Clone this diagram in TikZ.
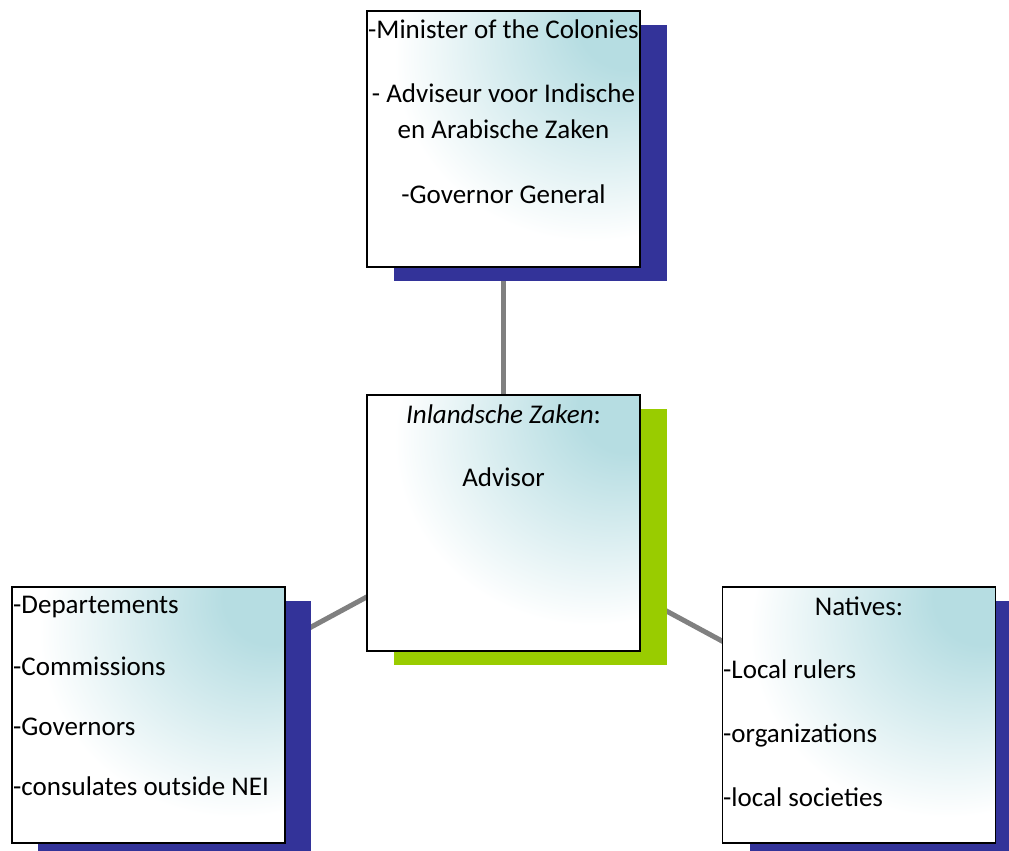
\documentclass[tikz,border=0pt]{standalone}
\usepackage{fontspec}
\setmainfont{Carlito}
\definecolor{tealc}{RGB}{182,221,226}
\definecolor{shblue}{RGB}{51,51,153}
\definecolor{shgreen}{RGB}{153,204,0}
\definecolor{linegray}{RGB}{128,128,128}
\pgfdeclareradialshading{cornerfade}{\pgfpoint{25bp}{25bp}}{color(0bp)=(tealc); color(9bp)=(tealc); color(36bp)=(white); color(100bp)=(white)}
\pgfdeclarelayer{bg}
\pgfdeclarelayer{shadowlayer}
\pgfsetlayers{bg,shadowlayer,main}
\tikzset{
  box/.style={draw=black, line width=1.8pt, shading=cornerfade, minimum width=273pt, minimum height=256pt, inner sep=0pt, outer sep=0pt},
  conn/.style={draw=linegray, line width=5pt},
  txt/.style={inner sep=0pt, font=\fontsize{27}{32}\selectfont},
}
\begin{document}
\begin{tikzpicture}[x=1pt,y=-1pt]
\useasboundingbox (0,0) rectangle (1009,851);
% boxes
\node[box] (top) at (503.5,139) {};
\node[box] (mid) at (503.5,523) {};
\node[box] (left) at (148.5,715) {};
\node[box] (right) at (859,715) {};
% shadows
\begin{pgfonlayer}{shadowlayer}
\fill[shblue] ([shift={(27,14)}]top.south west) rectangle ([shift={(27,14)}]top.north east);
\fill[shgreen] ([shift={(27,14)}]mid.south west) rectangle ([shift={(27,14)}]mid.north east);
\fill[shblue] ([shift={(26,14)}]left.south west) rectangle ([shift={(26,14)}]left.north east);
\fill[shblue] ([shift={(27,14)}]right.south west) rectangle ([shift={(27,14)}]right.north east);
\end{pgfonlayer}
% connectors
\begin{pgfonlayer}{bg}
\draw[conn] (top.center) -- (mid.center);
\draw[conn] (mid.center) -- (left.center);
\draw[conn] (mid.center) -- (right.center);
\end{pgfonlayer}
% texts
\node[txt, anchor=base] (t1) at (503.5,39) {-Minister of the Colonies};
\node[txt, anchor=base] (t2) at (503.5,102) {- Adviseur voor Indische};
\node[txt, anchor=base] (t3) at (503.5,138) {en Arabische Zaken};
\node[txt, anchor=base] (t4) at (503.5,203) {-Governor General};
\node[txt, anchor=base] (m1) at (503.5,423) {\itshape Inlandsche Zaken\upshape:};
\node[txt, anchor=base] (m2) at (503.5,486) {Advisor};
\node[txt, anchor=base west] (l1) at (13,613) {-Departements};
\node[txt, anchor=base west] (l2) at (13,675) {-Commissions};
\node[txt, anchor=base west] (l3) at (13,735) {-Governors};
\node[txt, anchor=base west] (l4) at (13,795) {-consulates outside NEI};
\node[txt, anchor=base] (r1) at (859,615) {Natives:};
\node[txt, anchor=base west] (r2) at (723,678) {-Local rulers};
\node[txt, anchor=base west] (r3) at (723,742) {-organizations};
\node[txt, anchor=base west] (r4) at (723,806) {-local societies};
\end{tikzpicture}
\end{document}
